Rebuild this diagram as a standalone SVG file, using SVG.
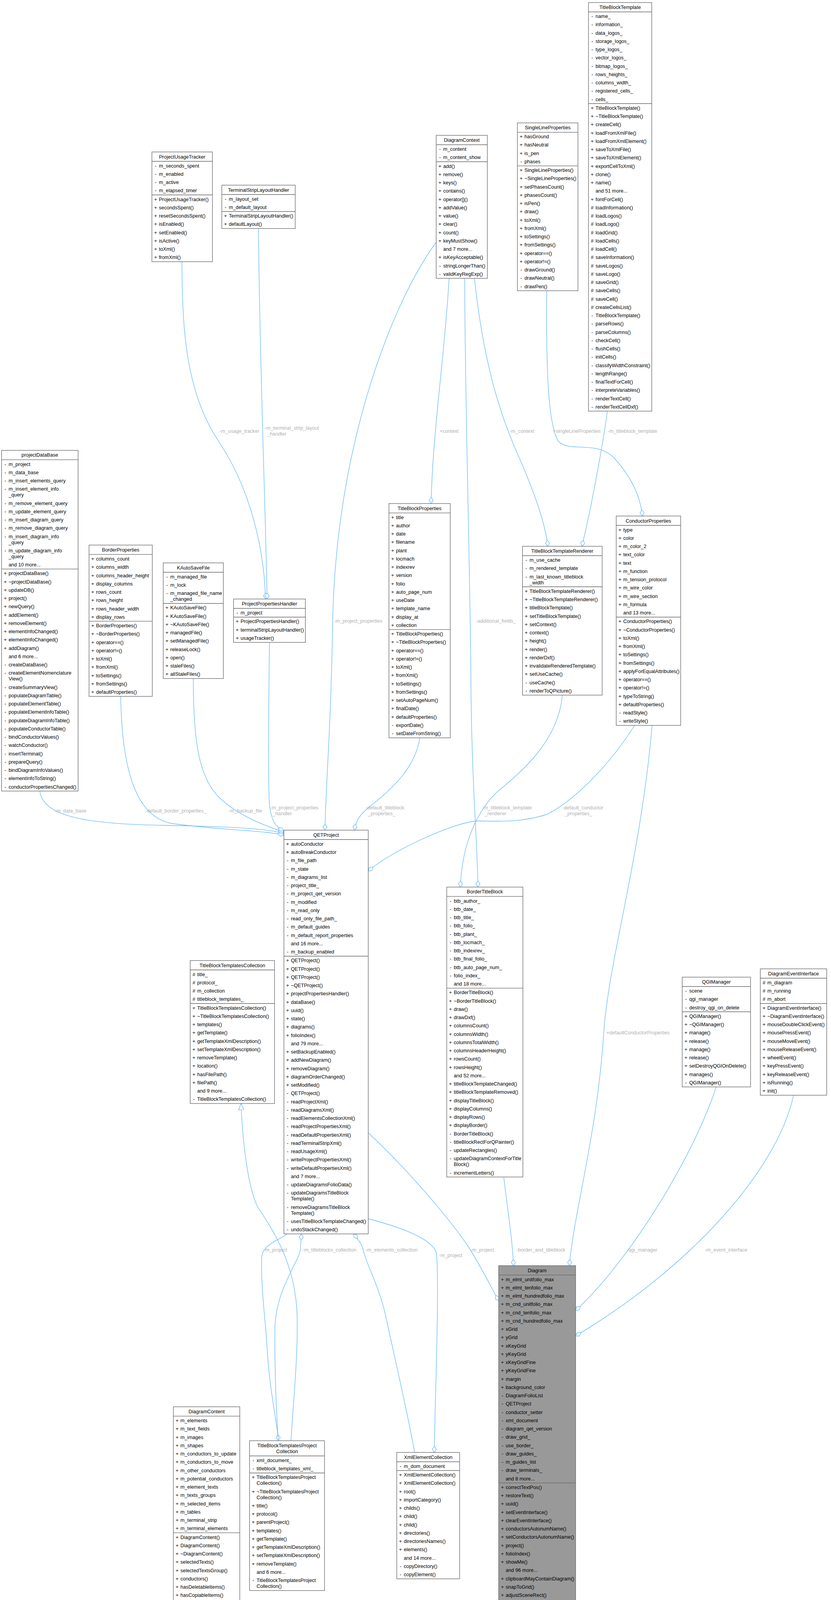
<svg xmlns="http://www.w3.org/2000/svg" width="2128" height="4923" viewBox="0 0 2128 4923">
<defs>
<style>
text{font-family:"Liberation Sans",Arial,sans-serif;font-size:12.7px;fill:#000}
.h,.p{text-anchor:middle}
.nd rect{fill:#fff;stroke:#666;stroke-width:1.33}
.nd path{stroke:#666;stroke-width:1.33;fill:none}
#n_Diagram rect{fill:#999}
.e path{stroke:#63B8FF;stroke-width:1.33;fill:none;marker-end:url(#dia)}
.e path.inh{marker-end:url(#tri)}
.l{fill:#b0b0b0}
</style>
<marker id="dia" viewBox="0 0 17 12" refX="16.5" refY="6" markerWidth="17" markerHeight="12" orient="auto" markerUnits="userSpaceOnUse"><path d="M0.5,6 L8.5,0.7 L16.5,6 L8.5,11.3 Z" fill="#fff" stroke="#63B8FF" stroke-width="1.33"/></marker>
<marker id="tri" viewBox="0 0 17 15" refX="16.5" refY="7.5" markerWidth="17" markerHeight="15" orient="auto" markerUnits="userSpaceOnUse"><path d="M0.5,0.7 L16.5,7.5 L0.5,14.3 Z" fill="#fff" stroke="#63B8FF" stroke-width="1.33"/></marker>
</defs>
<rect width="2128" height="4923" fill="#fff"/>

<g id="edges" class="e">
<path d="M466,670 C466,860 480,1010 560,1130 C640,1250 676,1400 680,1533.5"/>
<path d="M662,585 C664,900 680,1300 684,1533.5"/>
<path d="M1150,712.5 C1140,900 1108,1100 1104,1289.1"/>
<path d="M1215,712.5 C1240,950 1290,1080 1320,1150 C1360,1240 1395,1330 1403,1398.5"/>
<path d="M1400,744.4 C1398,960 1405,1090 1430,1130 C1460,1160 1530,1125 1575,1175 C1615,1220 1640,1270 1645,1321"/>
<path d="M1555,1052.5 C1550,1100 1515,1300 1490,1398.5"/>
<path d="M1117,620 C1000,780 860,1150 852,1589 C848,1850 835,2000 832,2125.3"/>
<path d="M1190,712.5 C1190,1000 1205,1500 1206,1760 C1208,2000 1222,2150 1224,2270.9"/>
<path d="M102,2025 C110,2085 200,2110 425,2113 C600,2116 690,2122 727,2134"/>
<path d="M309,1782.6 C312,1950 340,2090 440,2108 C560,2125 680,2126 727,2138"/>
<path d="M495,1737 C495,1900 510,1990 560,2040 C610,2090 690,2118 727,2130"/>
<path d="M690,1644.5 C688,1800 686,2000 690,2060 C695,2100 705,2118 727,2126"/>
<path d="M1075,1888.9 C1060,1990 960,2050 930,2080 C915,2095 910,2110 908,2125.3"/>
<path d="M1440,1779.5 C1430,1900 1330,1980 1270,2030 C1210,2090 1182,2180 1179,2270.9"/>
<path d="M1625,1857 C1560,1960 1470,2050 1400,2085 C1320,2110 1260,2100 1217,2102 C1150,2110 1000,2180 943,2230"/>
<path d="M1670,1857 C1640,2200 1560,2450 1546,2643 C1530,2900 1470,3100 1458,3240.1"/>
<path d="M943,2900 C1050,3000 1150,3120 1195,3185 C1225,3230 1255,3290 1277,3330"/>
<path d="M1290,3013.2 C1300,3100 1312,3170 1315,3240.1"/>
<path d="M735,3158.8 C715,3175 672,3185 670,3220 C668,3300 680,3380 684,3450 C690,3560 708,3630 713,3688.3"/>
<path d="M713,3688.3 C706,3600 703,3480 704,3400 C706,3300 766,3230 769,3199 C770,3185 771,3172 772,3158.8"/>
<path class="inh" d="M745,3688.3 C752,3580 765,3450 760,3350 C752,3230 700,3150 660,3090 C635,3040 622,2930 617,2825"/>
<path d="M943,3120 C1020,3140 1110,3170 1118,3210 C1125,3300 1115,3550 1112,3718.3"/>
<path d="M1062,3718.3 C1040,3600 1005,3450 990,3380 C975,3300 935,3230 930,3199 C927,3185 915,3170 905,3158.8"/>
<path d="M1834,2782.5 C1780,2950 1620,3220 1474,3355"/>
<path d="M2032,2803.8 C1990,3000 1760,3250 1474,3420"/>
<path d="M529,4158.7 C560,4400 800,4660 950,4717 C990,4730 1020,4735 1040,4740"/>
<path d="M1277,4410 C1250,4440 1215,4500 1183,4525 C1160,4535 1120,4530 1105,4555 C1095,4575 1090,4595 1089,4623.1"/>
<path d="M1173,4623.1 C1200,4550 1230,4480 1277,4380"/>
<path d="M1396,4613 C1385,4580 1375,4555 1373,4519.9"/>
<path d="M1450,4519.9 C1460,4550 1470,4570 1472,4591.3"/>
<text class="l" x="562" y="1107.5">-m_usage_tracker</text>
<text class="l" x="678" y="1100">-m_terminal_strip_layout</text>
<text class="l" x="684" y="1115">_handler</text>
<text class="l" x="1126" y="1107.5">+context</text>
<text class="l" x="1305" y="1107.5">-m_context</text>
<text class="l" x="1416" y="1107.5">+singleLineProperties</text>
<text class="l" x="1556" y="1107.5">-m_titleblock_template</text>
<text class="l" x="979" y="1593.5" text-anchor="end">-m_project_properties</text>
<text class="l" x="1219" y="1593.5">-additional_fields_</text>
<text class="l" x="140" y="2079.5">-m_data_base</text>
<text class="l" x="372" y="2079.5">-default_border_properties_</text>
<text class="l" x="585" y="2079.5">-m_backup_file</text>
<text class="l" x="692" y="2072">-m_project_properties</text>
<text class="l" x="698" y="2087">_handler</text>
<text class="l" x="936" y="2072">-default_titleblock</text>
<text class="l" x="942" y="2087">_properties_</text>
<text class="l" x="1235" y="2072">-m_titleblock_template</text>
<text class="l" x="1241" y="2087">_renderer</text>
<text class="l" x="1440" y="2072">-default_conductor</text>
<text class="l" x="1446" y="2087">_properties_</text>
<text class="l" x="1553" y="2647.5">+defaultConductorProperties</text>
<text class="l" x="675" y="3203.5">-m_project</text>
<text class="l" x="775" y="3203.5">-m_titleblocks_collection</text>
<text class="l" x="936" y="3203.5">-m_elements_collection</text>
<text class="l" x="1124" y="3218">-m_project</text>
<text class="l" x="1205" y="3203.5">-m_project</text>
<text class="l" x="1322" y="3203.5">-border_and_titleblock</text>
<text class="l" x="1605" y="3203.5">-qgi_manager</text>
<text class="l" x="1805" y="3203.5">-m_event_interface</text>
<text class="l" x="720" y="4561.5">-m_moved_content</text>
<text class="l" x="1117" y="4561.5">-m_diagram</text>
<text class="l" x="1204" y="4561.5">-m_elements_mover</text>
<text class="l" x="1385" y="4561.5">-m_element_texts_mover</text>
<text class="l" x="1545" y="4561.5">-m_diagram</text>
</g>

<g id="n_TitleBlockTemplate" class="nd">
<rect x="1507" y="6.5" width="162" height="1046"/>
<path d="M1507,30.5h162M1507,265.25h162"/>
<text class="h" x="1588" y="23">TitleBlockTemplate</text>
<text class="p" x="1516.5" y="46.1">-<tspan x="1516.5" dy="21.25">-</tspan><tspan x="1516.5" dy="21.25">-</tspan><tspan x="1516.5" dy="21.25">-</tspan><tspan x="1516.5" dy="21.25">-</tspan><tspan x="1516.5" dy="21.25">-</tspan><tspan x="1516.5" dy="21.25">-</tspan><tspan x="1516.5" dy="21.25">-</tspan><tspan x="1516.5" dy="21.25">-</tspan><tspan x="1516.5" dy="21.25">-</tspan><tspan x="1516.5" dy="21.25">-</tspan></text>
<text x="1525" y="46.1">name_<tspan x="1525" dy="21.25">information_</tspan><tspan x="1525" dy="21.25">data_logos_</tspan><tspan x="1525" dy="21.25">storage_logos_</tspan><tspan x="1525" dy="21.25">type_logos_</tspan><tspan x="1525" dy="21.25">vector_logos_</tspan><tspan x="1525" dy="21.25">bitmap_logos_</tspan><tspan x="1525" dy="21.25">rows_heights_</tspan><tspan x="1525" dy="21.25">columns_width_</tspan><tspan x="1525" dy="21.25">registered_cells_</tspan><tspan x="1525" dy="21.25">cells_</tspan></text>
<text class="p" x="1516.5" y="280.85">+<tspan x="1516.5" dy="21.25">+</tspan><tspan x="1516.5" dy="21.25">+</tspan><tspan x="1516.5" dy="21.25">+</tspan><tspan x="1516.5" dy="21.25">+</tspan><tspan x="1516.5" dy="21.25">+</tspan><tspan x="1516.5" dy="21.25">+</tspan><tspan x="1516.5" dy="21.25">+</tspan><tspan x="1516.5" dy="21.25">+</tspan><tspan x="1516.5" dy="21.25">+</tspan><tspan x="1516.5" dy="42.5">+</tspan><tspan x="1516.5" dy="21.25">#</tspan><tspan x="1516.5" dy="21.25">#</tspan><tspan x="1516.5" dy="21.25">#</tspan><tspan x="1516.5" dy="21.25">#</tspan><tspan x="1516.5" dy="21.25">#</tspan><tspan x="1516.5" dy="21.25">#</tspan><tspan x="1516.5" dy="21.25">#</tspan><tspan x="1516.5" dy="21.25">#</tspan><tspan x="1516.5" dy="21.25">#</tspan><tspan x="1516.5" dy="21.25">#</tspan><tspan x="1516.5" dy="21.25">#</tspan><tspan x="1516.5" dy="21.25">#</tspan><tspan x="1516.5" dy="21.25">#</tspan><tspan x="1516.5" dy="21.25">-</tspan><tspan x="1516.5" dy="21.25">-</tspan><tspan x="1516.5" dy="21.25">-</tspan><tspan x="1516.5" dy="21.25">-</tspan><tspan x="1516.5" dy="21.25">-</tspan><tspan x="1516.5" dy="21.25">-</tspan><tspan x="1516.5" dy="21.25">-</tspan><tspan x="1516.5" dy="21.25">-</tspan><tspan x="1516.5" dy="21.25">-</tspan><tspan x="1516.5" dy="21.25">-</tspan><tspan x="1516.5" dy="21.25">-</tspan><tspan x="1516.5" dy="21.25">-</tspan></text>
<text x="1525" y="280.85">TitleBlockTemplate()<tspan x="1525" dy="21.25">~TitleBlockTemplate()</tspan><tspan x="1525" dy="21.25">createCell()</tspan><tspan x="1525" dy="21.25">loadFromXmlFile()</tspan><tspan x="1525" dy="21.25">loadFromXmlElement()</tspan><tspan x="1525" dy="21.25">saveToXmlFile()</tspan><tspan x="1525" dy="21.25">saveToXmlElement()</tspan><tspan x="1525" dy="21.25">exportCellToXml()</tspan><tspan x="1525" dy="21.25">clone()</tspan><tspan x="1525" dy="21.25">name()</tspan><tspan x="1525" dy="21.25">and 51 more...</tspan><tspan x="1525" dy="21.25">fontForCell()</tspan><tspan x="1525" dy="21.25">loadInformation()</tspan><tspan x="1525" dy="21.25">loadLogos()</tspan><tspan x="1525" dy="21.25">loadLogo()</tspan><tspan x="1525" dy="21.25">loadGrid()</tspan><tspan x="1525" dy="21.25">loadCells()</tspan><tspan x="1525" dy="21.25">loadCell()</tspan><tspan x="1525" dy="21.25">saveInformation()</tspan><tspan x="1525" dy="21.25">saveLogos()</tspan><tspan x="1525" dy="21.25">saveLogo()</tspan><tspan x="1525" dy="21.25">saveGrid()</tspan><tspan x="1525" dy="21.25">saveCells()</tspan><tspan x="1525" dy="21.25">saveCell()</tspan><tspan x="1525" dy="21.25">createCellsList()</tspan><tspan x="1525" dy="21.25">TitleBlockTemplate()</tspan><tspan x="1525" dy="21.25">parseRows()</tspan><tspan x="1525" dy="21.25">parseColumns()</tspan><tspan x="1525" dy="21.25">checkCell()</tspan><tspan x="1525" dy="21.25">flushCells()</tspan><tspan x="1525" dy="21.25">initCells()</tspan><tspan x="1525" dy="21.25">classifyWidthConstraint()</tspan><tspan x="1525" dy="21.25">lengthRange()</tspan><tspan x="1525" dy="21.25">finalTextForCell()</tspan><tspan x="1525" dy="21.25">interpreteVariables()</tspan><tspan x="1525" dy="21.25">renderTextCell()</tspan><tspan x="1525" dy="21.25">renderTextCellDxf()</tspan></text>
</g>

<g id="n_SingleLineProperties" class="nd">
<rect x="1325" y="314.6" width="155" height="429.75"/>
<path d="M1325,338.6h155M1325,424.6h155"/>
<text class="h" x="1402.5" y="331.1">SingleLineProperties</text>
<text class="p" x="1334.5" y="354.2">+<tspan x="1334.5" dy="21.25">+</tspan><tspan x="1334.5" dy="21.25">+</tspan><tspan x="1334.5" dy="21.25">-</tspan></text>
<text x="1343" y="354.2">hasGround<tspan x="1343" dy="21.25">hasNeutral</tspan><tspan x="1343" dy="21.25">is_pen</tspan><tspan x="1343" dy="21.25">phases</tspan></text>
<text class="p" x="1334.5" y="440.2">+<tspan x="1334.5" dy="21.25">+</tspan><tspan x="1334.5" dy="21.25">+</tspan><tspan x="1334.5" dy="21.25">+</tspan><tspan x="1334.5" dy="21.25">+</tspan><tspan x="1334.5" dy="21.25">+</tspan><tspan x="1334.5" dy="21.25">+</tspan><tspan x="1334.5" dy="21.25">+</tspan><tspan x="1334.5" dy="21.25">+</tspan><tspan x="1334.5" dy="21.25">+</tspan><tspan x="1334.5" dy="21.25">+</tspan><tspan x="1334.5" dy="21.25">+</tspan><tspan x="1334.5" dy="21.25">-</tspan><tspan x="1334.5" dy="21.25">-</tspan><tspan x="1334.5" dy="21.25">-</tspan></text>
<text x="1343" y="440.2">SingleLineProperties()<tspan x="1343" dy="21.25">~SingleLineProperties()</tspan><tspan x="1343" dy="21.25">setPhasesCount()</tspan><tspan x="1343" dy="21.25">phasesCount()</tspan><tspan x="1343" dy="21.25">isPen()</tspan><tspan x="1343" dy="21.25">draw()</tspan><tspan x="1343" dy="21.25">toXml()</tspan><tspan x="1343" dy="21.25">fromXml()</tspan><tspan x="1343" dy="21.25">toSettings()</tspan><tspan x="1343" dy="21.25">fromSettings()</tspan><tspan x="1343" dy="21.25">operator==()</tspan><tspan x="1343" dy="21.25">operator!=()</tspan><tspan x="1343" dy="21.25">drawGround()</tspan><tspan x="1343" dy="21.25">drawNeutral()</tspan><tspan x="1343" dy="21.25">drawPen()</tspan></text>
</g>

<g id="n_DiagramContext" class="nd">
<rect x="1117" y="346.5" width="131" height="366"/>
<path d="M1117,370.5h131M1117,414h131"/>
<text class="h" x="1182.5" y="363">DiagramContext</text>
<text class="p" x="1126.5" y="386.1">-<tspan x="1126.5" dy="21.25">-</tspan></text>
<text x="1135" y="386.1">m_content<tspan x="1135" dy="21.25">m_content_show</tspan></text>
<text class="p" x="1126.5" y="429.6">+<tspan x="1126.5" dy="21.25">+</tspan><tspan x="1126.5" dy="21.25">+</tspan><tspan x="1126.5" dy="21.25">+</tspan><tspan x="1126.5" dy="21.25">+</tspan><tspan x="1126.5" dy="21.25">+</tspan><tspan x="1126.5" dy="21.25">+</tspan><tspan x="1126.5" dy="21.25">+</tspan><tspan x="1126.5" dy="21.25">+</tspan><tspan x="1126.5" dy="21.25">+</tspan><tspan x="1126.5" dy="42.5">+</tspan><tspan x="1126.5" dy="21.25">-</tspan><tspan x="1126.5" dy="21.25">-</tspan></text>
<text x="1135" y="429.6">add()<tspan x="1135" dy="21.25">remove()</tspan><tspan x="1135" dy="21.25">keys()</tspan><tspan x="1135" dy="21.25">contains()</tspan><tspan x="1135" dy="21.25">operator[]()</tspan><tspan x="1135" dy="21.25">addValue()</tspan><tspan x="1135" dy="21.25">value()</tspan><tspan x="1135" dy="21.25">clear()</tspan><tspan x="1135" dy="21.25">count()</tspan><tspan x="1135" dy="21.25">keyMustShow()</tspan><tspan x="1135" dy="21.25">and 7 more...</tspan><tspan x="1135" dy="21.25">isKeyAcceptable()</tspan><tspan x="1135" dy="21.25">stringLongerThan()</tspan><tspan x="1135" dy="21.25">validKeyRegExp()</tspan></text>
</g>

<g id="n_ProjectUsageTracker" class="nd">
<rect x="389" y="389" width="155" height="281"/>
<path d="M389,413h155M389,499h155"/>
<text class="h" x="466.5" y="405.5">ProjectUsageTracker</text>
<text class="p" x="398.5" y="428.6">-<tspan x="398.5" dy="21.25">-</tspan><tspan x="398.5" dy="21.25">-</tspan><tspan x="398.5" dy="21.25">-</tspan></text>
<text x="407" y="428.6">m_seconds_spent<tspan x="407" dy="21.25">m_enabled</tspan><tspan x="407" dy="21.25">m_active</tspan><tspan x="407" dy="21.25">m_elapsed_timer</tspan></text>
<text class="p" x="398.5" y="514.6">+<tspan x="398.5" dy="21.25">+</tspan><tspan x="398.5" dy="21.25">+</tspan><tspan x="398.5" dy="21.25">+</tspan><tspan x="398.5" dy="21.25">+</tspan><tspan x="398.5" dy="21.25">+</tspan><tspan x="398.5" dy="21.25">+</tspan><tspan x="398.5" dy="21.25">+</tspan></text>
<text x="407" y="514.6">ProjectUsageTracker()<tspan x="407" dy="21.25">secondsSpent()</tspan><tspan x="407" dy="21.25">resetSecondsSpent()</tspan><tspan x="407" dy="21.25">isEnabled()</tspan><tspan x="407" dy="21.25">setEnabled()</tspan><tspan x="407" dy="21.25">isActive()</tspan><tspan x="407" dy="21.25">toXml()</tspan><tspan x="407" dy="21.25">fromXml()</tspan></text>
</g>

<g id="n_TerminalStripLayoutHandler" class="nd">
<rect x="568" y="474" width="188" height="111"/>
<path d="M568,498h188M568,541.5h188"/>
<text class="h" x="662" y="490.5">TerminalStripLayoutHandler</text>
<text class="p" x="577.5" y="513.6">-<tspan x="577.5" dy="21.25">-</tspan></text>
<text x="586" y="513.6">m_layout_set<tspan x="586" dy="21.25">m_default_layout</tspan></text>
<text class="p" x="577.5" y="557.1">+<tspan x="577.5" dy="21.25">+</tspan></text>
<text x="586" y="557.1">TerminalStripLayoutHandler()<tspan x="586" dy="21.25">defaultLayout()</tspan></text>
</g>

<g id="n_projectDataBase" class="nd">
<rect x="4" y="1152.9" width="196" height="872.25"/>
<path d="M4,1176.9h196M4,1456.65h196"/>
<text class="h" x="102" y="1169.4">projectDataBase</text>
<text class="p" x="13.5" y="1192.5">-<tspan x="13.5" dy="21.25">-</tspan><tspan x="13.5" dy="21.25">-</tspan><tspan x="13.5" dy="21.25">-</tspan><tspan x="13.5" dy="36.25">-</tspan><tspan x="13.5" dy="21.25">-</tspan><tspan x="13.5" dy="21.25">-</tspan><tspan x="13.5" dy="21.25">-</tspan><tspan x="13.5" dy="21.25">-</tspan><tspan x="13.5" dy="36.25">-</tspan></text>
<text x="22" y="1192.5">m_project<tspan x="22" dy="21.25">m_data_base</tspan><tspan x="22" dy="21.25">m_insert_elements_query</tspan><tspan x="22" dy="21.25">m_insert_element_info</tspan><tspan x="22" dy="15">_query</tspan><tspan x="22" dy="21.25">m_remove_element_query</tspan><tspan x="22" dy="21.25">m_update_element_query</tspan><tspan x="22" dy="21.25">m_insert_diagram_query</tspan><tspan x="22" dy="21.25">m_remove_diagram_query</tspan><tspan x="22" dy="21.25">m_insert_diagram_info</tspan><tspan x="22" dy="15">_query</tspan><tspan x="22" dy="21.25">m_update_diagram_info</tspan><tspan x="22" dy="15">_query</tspan><tspan x="22" dy="21.25">and 10 more...</tspan></text>
<text class="p" x="13.5" y="1472.25">+<tspan x="13.5" dy="21.25">+</tspan><tspan x="13.5" dy="21.25">+</tspan><tspan x="13.5" dy="21.25">+</tspan><tspan x="13.5" dy="21.25">+</tspan><tspan x="13.5" dy="21.25">+</tspan><tspan x="13.5" dy="21.25">+</tspan><tspan x="13.5" dy="21.25">+</tspan><tspan x="13.5" dy="21.25">+</tspan><tspan x="13.5" dy="21.25">+</tspan><tspan x="13.5" dy="42.5">-</tspan><tspan x="13.5" dy="21.25">-</tspan><tspan x="13.5" dy="36.25">-</tspan><tspan x="13.5" dy="21.25">-</tspan><tspan x="13.5" dy="21.25">-</tspan><tspan x="13.5" dy="21.25">-</tspan><tspan x="13.5" dy="21.25">-</tspan><tspan x="13.5" dy="21.25">-</tspan><tspan x="13.5" dy="21.25">-</tspan><tspan x="13.5" dy="21.25">-</tspan><tspan x="13.5" dy="21.25">-</tspan><tspan x="13.5" dy="21.25">-</tspan><tspan x="13.5" dy="21.25">-</tspan><tspan x="13.5" dy="21.25">-</tspan><tspan x="13.5" dy="21.25">-</tspan></text>
<text x="22" y="1472.25">projectDataBase()<tspan x="22" dy="21.25">~projectDataBase()</tspan><tspan x="22" dy="21.25">updateDB()</tspan><tspan x="22" dy="21.25">project()</tspan><tspan x="22" dy="21.25">newQuery()</tspan><tspan x="22" dy="21.25">addElement()</tspan><tspan x="22" dy="21.25">removeElement()</tspan><tspan x="22" dy="21.25">elementInfoChanged()</tspan><tspan x="22" dy="21.25">elementInfoChanged()</tspan><tspan x="22" dy="21.25">addDiagram()</tspan><tspan x="22" dy="21.25">and 6 more...</tspan><tspan x="22" dy="21.25">createDataBase()</tspan><tspan x="22" dy="21.25">createElementNomenclature</tspan><tspan x="22" dy="15">View()</tspan><tspan x="22" dy="21.25">createSummaryView()</tspan><tspan x="22" dy="21.25">populateDiagramTable()</tspan><tspan x="22" dy="21.25">populateElementTable()</tspan><tspan x="22" dy="21.25">populateElementInfoTable()</tspan><tspan x="22" dy="21.25">populateDiagramInfoTable()</tspan><tspan x="22" dy="21.25">populateConductorTable()</tspan><tspan x="22" dy="21.25">bindConductorValues()</tspan><tspan x="22" dy="21.25">watchConductor()</tspan><tspan x="22" dy="21.25">insertTerminal()</tspan><tspan x="22" dy="21.25">prepareQuery()</tspan><tspan x="22" dy="21.25">bindDiagramInfoValues()</tspan><tspan x="22" dy="21.25">elementInfoToString()</tspan><tspan x="22" dy="21.25">conductorPropertiesChanged()</tspan></text>
</g>

<g id="n_BorderProperties" class="nd">
<rect x="228" y="1395.4" width="162" height="387.25"/>
<path d="M228,1419.4h162M228,1590.4h162"/>
<text class="h" x="309" y="1411.9">BorderProperties</text>
<text class="p" x="237.5" y="1435">+<tspan x="237.5" dy="21.25">+</tspan><tspan x="237.5" dy="21.25">+</tspan><tspan x="237.5" dy="21.25">+</tspan><tspan x="237.5" dy="21.25">+</tspan><tspan x="237.5" dy="21.25">+</tspan><tspan x="237.5" dy="21.25">+</tspan><tspan x="237.5" dy="21.25">+</tspan></text>
<text x="246" y="1435">columns_count<tspan x="246" dy="21.25">columns_width</tspan><tspan x="246" dy="21.25">columns_header_height</tspan><tspan x="246" dy="21.25">display_columns</tspan><tspan x="246" dy="21.25">rows_count</tspan><tspan x="246" dy="21.25">rows_height</tspan><tspan x="246" dy="21.25">rows_header_width</tspan><tspan x="246" dy="21.25">display_rows</tspan></text>
<text class="p" x="237.5" y="1606">+<tspan x="237.5" dy="21.25">+</tspan><tspan x="237.5" dy="21.25">+</tspan><tspan x="237.5" dy="21.25">+</tspan><tspan x="237.5" dy="21.25">+</tspan><tspan x="237.5" dy="21.25">+</tspan><tspan x="237.5" dy="21.25">+</tspan><tspan x="237.5" dy="21.25">+</tspan><tspan x="237.5" dy="21.25">+</tspan></text>
<text x="246" y="1606">BorderProperties()<tspan x="246" dy="21.25">~BorderProperties()</tspan><tspan x="246" dy="21.25">operator==()</tspan><tspan x="246" dy="21.25">operator!=()</tspan><tspan x="246" dy="21.25">toXml()</tspan><tspan x="246" dy="21.25">fromXml()</tspan><tspan x="246" dy="21.25">toSettings()</tspan><tspan x="246" dy="21.25">fromSettings()</tspan><tspan x="246" dy="21.25">defaultProperties()</tspan></text>
</g>

<g id="n_KAutoSaveFile" class="nd">
<rect x="418" y="1441" width="154" height="296"/>
<path d="M418,1465h154M418,1544.75h154"/>
<text class="h" x="495" y="1457.5">KAutoSaveFile</text>
<text class="p" x="427.5" y="1480.6">-<tspan x="427.5" dy="21.25">-</tspan><tspan x="427.5" dy="21.25">-</tspan></text>
<text x="436" y="1480.6">m_managed_file<tspan x="436" dy="21.25">m_lock</tspan><tspan x="436" dy="21.25">m_managed_file_name</tspan><tspan x="436" dy="15">_changed</tspan></text>
<text class="p" x="427.5" y="1560.35">+<tspan x="427.5" dy="21.25">+</tspan><tspan x="427.5" dy="21.25">+</tspan><tspan x="427.5" dy="21.25">+</tspan><tspan x="427.5" dy="21.25">+</tspan><tspan x="427.5" dy="21.25">+</tspan><tspan x="427.5" dy="21.25">+</tspan><tspan x="427.5" dy="21.25">+</tspan><tspan x="427.5" dy="21.25">+</tspan></text>
<text x="436" y="1560.35">KAutoSaveFile()<tspan x="436" dy="21.25">KAutoSaveFile()</tspan><tspan x="436" dy="21.25">~KAutoSaveFile()</tspan><tspan x="436" dy="21.25">managedFile()</tspan><tspan x="436" dy="21.25">setManagedFile()</tspan><tspan x="436" dy="21.25">releaseLock()</tspan><tspan x="436" dy="21.25">open()</tspan><tspan x="436" dy="21.25">staleFiles()</tspan><tspan x="436" dy="21.25">allStaleFiles()</tspan></text>
</g>

<g id="n_ProjectPropertiesHandler" class="nd">
<rect x="598" y="1533.5" width="184" height="111"/>
<path d="M598,1557.5h184M598,1579.75h184"/>
<text class="h" x="690" y="1550">ProjectPropertiesHandler</text>
<text class="p" x="607.5" y="1573.1">-</text>
<text x="616" y="1573.1">m_project</text>
<text class="p" x="607.5" y="1595.35">+<tspan x="607.5" dy="21.25">+</tspan><tspan x="607.5" dy="21.25">+</tspan></text>
<text x="616" y="1595.35">ProjectPropertiesHandler()<tspan x="616" dy="21.25">terminalStripLayoutHandler()</tspan><tspan x="616" dy="21.25">usageTracker()</tspan></text>
</g>

<g id="n_TitleBlockProperties" class="nd">
<rect x="996" y="1289.1" width="157" height="599.75"/>
<path d="M996,1313.1h157M996,1611.6h157"/>
<text class="h" x="1074.5" y="1305.6">TitleBlockProperties</text>
<text class="p" x="1005.5" y="1328.7">+<tspan x="1005.5" dy="21.25">+</tspan><tspan x="1005.5" dy="21.25">+</tspan><tspan x="1005.5" dy="21.25">+</tspan><tspan x="1005.5" dy="21.25">+</tspan><tspan x="1005.5" dy="21.25">+</tspan><tspan x="1005.5" dy="21.25">+</tspan><tspan x="1005.5" dy="21.25">+</tspan><tspan x="1005.5" dy="21.25">+</tspan><tspan x="1005.5" dy="21.25">+</tspan><tspan x="1005.5" dy="21.25">+</tspan><tspan x="1005.5" dy="21.25">+</tspan><tspan x="1005.5" dy="21.25">+</tspan><tspan x="1005.5" dy="21.25">+</tspan></text>
<text x="1014" y="1328.7">title<tspan x="1014" dy="21.25">author</tspan><tspan x="1014" dy="21.25">date</tspan><tspan x="1014" dy="21.25">filename</tspan><tspan x="1014" dy="21.25">plant</tspan><tspan x="1014" dy="21.25">locmach</tspan><tspan x="1014" dy="21.25">indexrev</tspan><tspan x="1014" dy="21.25">version</tspan><tspan x="1014" dy="21.25">folio</tspan><tspan x="1014" dy="21.25">auto_page_num</tspan><tspan x="1014" dy="21.25">useDate</tspan><tspan x="1014" dy="21.25">template_name</tspan><tspan x="1014" dy="21.25">display_at</tspan><tspan x="1014" dy="21.25">collection</tspan></text>
<text class="p" x="1005.5" y="1627.2">+<tspan x="1005.5" dy="21.25">+</tspan><tspan x="1005.5" dy="21.25">+</tspan><tspan x="1005.5" dy="21.25">+</tspan><tspan x="1005.5" dy="21.25">+</tspan><tspan x="1005.5" dy="21.25">+</tspan><tspan x="1005.5" dy="21.25">+</tspan><tspan x="1005.5" dy="21.25">+</tspan><tspan x="1005.5" dy="21.25">+</tspan><tspan x="1005.5" dy="21.25">+</tspan><tspan x="1005.5" dy="21.25">+</tspan><tspan x="1005.5" dy="21.25">-</tspan><tspan x="1005.5" dy="21.25">-</tspan></text>
<text x="1014" y="1627.2">TitleBlockProperties()<tspan x="1014" dy="21.25">~TitleBlockProperties()</tspan><tspan x="1014" dy="21.25">operator==()</tspan><tspan x="1014" dy="21.25">operator!=()</tspan><tspan x="1014" dy="21.25">toXml()</tspan><tspan x="1014" dy="21.25">fromXml()</tspan><tspan x="1014" dy="21.25">toSettings()</tspan><tspan x="1014" dy="21.25">fromSettings()</tspan><tspan x="1014" dy="21.25">setAutoPageNum()</tspan><tspan x="1014" dy="21.25">finalDate()</tspan><tspan x="1014" dy="21.25">defaultProperties()</tspan><tspan x="1014" dy="21.25">exportDate()</tspan><tspan x="1014" dy="21.25">setDateFromString()</tspan></text>
</g>

<g id="n_TitleBlockTemplateRenderer" class="nd">
<rect x="1338" y="1398.5" width="204" height="381"/>
<path d="M1338,1422.5h204M1338,1502.25h204"/>
<text class="h" x="1440" y="1415">TitleBlockTemplateRenderer</text>
<text class="p" x="1347.5" y="1438.1">-<tspan x="1347.5" dy="21.25">-</tspan><tspan x="1347.5" dy="21.25">-</tspan></text>
<text x="1356" y="1438.1">m_use_cache<tspan x="1356" dy="21.25">m_rendered_template</tspan><tspan x="1356" dy="21.25">m_last_known_titleblock</tspan><tspan x="1356" dy="15">_width</tspan></text>
<text class="p" x="1347.5" y="1517.85">+<tspan x="1347.5" dy="21.25">+</tspan><tspan x="1347.5" dy="21.25">+</tspan><tspan x="1347.5" dy="21.25">+</tspan><tspan x="1347.5" dy="21.25">+</tspan><tspan x="1347.5" dy="21.25">+</tspan><tspan x="1347.5" dy="21.25">+</tspan><tspan x="1347.5" dy="21.25">+</tspan><tspan x="1347.5" dy="21.25">+</tspan><tspan x="1347.5" dy="21.25">+</tspan><tspan x="1347.5" dy="21.25">+</tspan><tspan x="1347.5" dy="21.25">-</tspan><tspan x="1347.5" dy="21.25">-</tspan></text>
<text x="1356" y="1517.85">TitleBlockTemplateRenderer()<tspan x="1356" dy="21.25">~TitleBlockTemplateRenderer()</tspan><tspan x="1356" dy="21.25">titleBlockTemplate()</tspan><tspan x="1356" dy="21.25">setTitleBlockTemplate()</tspan><tspan x="1356" dy="21.25">setContext()</tspan><tspan x="1356" dy="21.25">context()</tspan><tspan x="1356" dy="21.25">height()</tspan><tspan x="1356" dy="21.25">render()</tspan><tspan x="1356" dy="21.25">renderDxf()</tspan><tspan x="1356" dy="21.25">invalidateRenderedTemplate()</tspan><tspan x="1356" dy="21.25">setUseCache()</tspan><tspan x="1356" dy="21.25">useCache()</tspan><tspan x="1356" dy="21.25">renderToQPicture()</tspan></text>
</g>

<g id="n_ConductorProperties" class="nd">
<rect x="1578" y="1321" width="165" height="536"/>
<path d="M1578,1345h165M1578,1579.75h165"/>
<text class="h" x="1660.5" y="1337.5">ConductorProperties</text>
<text class="p" x="1587.5" y="1360.6">+<tspan x="1587.5" dy="21.25">+</tspan><tspan x="1587.5" dy="21.25">+</tspan><tspan x="1587.5" dy="21.25">+</tspan><tspan x="1587.5" dy="21.25">+</tspan><tspan x="1587.5" dy="21.25">+</tspan><tspan x="1587.5" dy="21.25">+</tspan><tspan x="1587.5" dy="21.25">+</tspan><tspan x="1587.5" dy="21.25">+</tspan><tspan x="1587.5" dy="21.25">+</tspan></text>
<text x="1596" y="1360.6">type<tspan x="1596" dy="21.25">color</tspan><tspan x="1596" dy="21.25">m_color_2</tspan><tspan x="1596" dy="21.25">text_color</tspan><tspan x="1596" dy="21.25">text</tspan><tspan x="1596" dy="21.25">m_function</tspan><tspan x="1596" dy="21.25">m_tension_protocol</tspan><tspan x="1596" dy="21.25">m_wire_color</tspan><tspan x="1596" dy="21.25">m_wire_section</tspan><tspan x="1596" dy="21.25">m_formula</tspan><tspan x="1596" dy="21.25">and 13 more...</tspan></text>
<text class="p" x="1587.5" y="1595.35">+<tspan x="1587.5" dy="21.25">+</tspan><tspan x="1587.5" dy="21.25">+</tspan><tspan x="1587.5" dy="21.25">+</tspan><tspan x="1587.5" dy="21.25">+</tspan><tspan x="1587.5" dy="21.25">+</tspan><tspan x="1587.5" dy="21.25">+</tspan><tspan x="1587.5" dy="21.25">+</tspan><tspan x="1587.5" dy="21.25">+</tspan><tspan x="1587.5" dy="21.25">+</tspan><tspan x="1587.5" dy="21.25">+</tspan><tspan x="1587.5" dy="21.25">-</tspan><tspan x="1587.5" dy="21.25">-</tspan></text>
<text x="1596" y="1595.35">ConductorProperties()<tspan x="1596" dy="21.25">~ConductorProperties()</tspan><tspan x="1596" dy="21.25">toXml()</tspan><tspan x="1596" dy="21.25">fromXml()</tspan><tspan x="1596" dy="21.25">toSettings()</tspan><tspan x="1596" dy="21.25">fromSettings()</tspan><tspan x="1596" dy="21.25">applyForEqualAttributes()</tspan><tspan x="1596" dy="21.25">operator==()</tspan><tspan x="1596" dy="21.25">operator!=()</tspan><tspan x="1596" dy="21.25">typeToString()</tspan><tspan x="1596" dy="21.25">defaultProperties()</tspan><tspan x="1596" dy="21.25">readStyle()</tspan><tspan x="1596" dy="21.25">writeStyle()</tspan></text>
</g>

<g id="n_QETProject" class="nd">
<rect x="727" y="2125.25" width="216" height="1033.5"/>
<path d="M727,2149.25h216M727,2447.75h216"/>
<text class="h" x="835" y="2141.75">QETProject</text>
<text class="p" x="736.5" y="2164.85">+<tspan x="736.5" dy="21.25">+</tspan><tspan x="736.5" dy="21.25">-</tspan><tspan x="736.5" dy="21.25">-</tspan><tspan x="736.5" dy="21.25">-</tspan><tspan x="736.5" dy="21.25">-</tspan><tspan x="736.5" dy="21.25">-</tspan><tspan x="736.5" dy="21.25">-</tspan><tspan x="736.5" dy="21.25">-</tspan><tspan x="736.5" dy="21.25">-</tspan><tspan x="736.5" dy="21.25">-</tspan><tspan x="736.5" dy="21.25">-</tspan><tspan x="736.5" dy="42.5">-</tspan></text>
<text x="745" y="2164.85">autoConductor<tspan x="745" dy="21.25">autoBreakConductor</tspan><tspan x="745" dy="21.25">m_file_path</tspan><tspan x="745" dy="21.25">m_state</tspan><tspan x="745" dy="21.25">m_diagrams_list</tspan><tspan x="745" dy="21.25">project_title_</tspan><tspan x="745" dy="21.25">m_project_qet_version</tspan><tspan x="745" dy="21.25">m_modified</tspan><tspan x="745" dy="21.25">m_read_only</tspan><tspan x="745" dy="21.25">read_only_file_path_</tspan><tspan x="745" dy="21.25">m_default_guides</tspan><tspan x="745" dy="21.25">m_default_report_properties</tspan><tspan x="745" dy="21.25">and 16 more...</tspan><tspan x="745" dy="21.25">m_backup_enabled</tspan></text>
<text class="p" x="736.5" y="2463.35">+<tspan x="736.5" dy="21.25">+</tspan><tspan x="736.5" dy="21.25">+</tspan><tspan x="736.5" dy="21.25">+</tspan><tspan x="736.5" dy="21.25">+</tspan><tspan x="736.5" dy="21.25">+</tspan><tspan x="736.5" dy="21.25">+</tspan><tspan x="736.5" dy="21.25">+</tspan><tspan x="736.5" dy="21.25">+</tspan><tspan x="736.5" dy="21.25">+</tspan><tspan x="736.5" dy="42.5">+</tspan><tspan x="736.5" dy="21.25">+</tspan><tspan x="736.5" dy="21.25">+</tspan><tspan x="736.5" dy="21.25">+</tspan><tspan x="736.5" dy="21.25">+</tspan><tspan x="736.5" dy="21.25">-</tspan><tspan x="736.5" dy="21.25">-</tspan><tspan x="736.5" dy="21.25">-</tspan><tspan x="736.5" dy="21.25">-</tspan><tspan x="736.5" dy="21.25">-</tspan><tspan x="736.5" dy="21.25">-</tspan><tspan x="736.5" dy="21.25">-</tspan><tspan x="736.5" dy="21.25">-</tspan><tspan x="736.5" dy="21.25">-</tspan><tspan x="736.5" dy="21.25">-</tspan><tspan x="736.5" dy="42.5">-</tspan><tspan x="736.5" dy="21.25">-</tspan><tspan x="736.5" dy="36.25">-</tspan><tspan x="736.5" dy="36.25">-</tspan><tspan x="736.5" dy="21.25">-</tspan></text>
<text x="745" y="2463.35">QETProject()<tspan x="745" dy="21.25">QETProject()</tspan><tspan x="745" dy="21.25">QETProject()</tspan><tspan x="745" dy="21.25">~QETProject()</tspan><tspan x="745" dy="21.25">projectPropertiesHandler()</tspan><tspan x="745" dy="21.25">dataBase()</tspan><tspan x="745" dy="21.25">uuid()</tspan><tspan x="745" dy="21.25">state()</tspan><tspan x="745" dy="21.25">diagrams()</tspan><tspan x="745" dy="21.25">folioIndex()</tspan><tspan x="745" dy="21.25">and 79 more...</tspan><tspan x="745" dy="21.25">setBackupEnabled()</tspan><tspan x="745" dy="21.25">addNewDiagram()</tspan><tspan x="745" dy="21.25">removeDiagram()</tspan><tspan x="745" dy="21.25">diagramOrderChanged()</tspan><tspan x="745" dy="21.25">setModified()</tspan><tspan x="745" dy="21.25">QETProject()</tspan><tspan x="745" dy="21.25">readProjectXml()</tspan><tspan x="745" dy="21.25">readDiagramsXml()</tspan><tspan x="745" dy="21.25">readElementsCollectionXml()</tspan><tspan x="745" dy="21.25">readProjectPropertiesXml()</tspan><tspan x="745" dy="21.25">readDefaultPropertiesXml()</tspan><tspan x="745" dy="21.25">readTerminalStripXml()</tspan><tspan x="745" dy="21.25">readUsageXml()</tspan><tspan x="745" dy="21.25">writeProjectPropertiesXml()</tspan><tspan x="745" dy="21.25">writeDefaultPropertiesXml()</tspan><tspan x="745" dy="21.25">and 7 more...</tspan><tspan x="745" dy="21.25">updateDiagramsFolioData()</tspan><tspan x="745" dy="21.25">updateDiagramsTitleBlock</tspan><tspan x="745" dy="15">Template()</tspan><tspan x="745" dy="21.25">removeDiagramsTitleBlock</tspan><tspan x="745" dy="15">Template()</tspan><tspan x="745" dy="21.25">usesTitleBlockTemplateChanged()</tspan><tspan x="745" dy="21.25">undoStackChanged()</tspan></text>
</g>

<g id="n_BorderTitleBlock" class="nd">
<rect x="1144" y="2270.9" width="195" height="742.25"/>
<path d="M1144,2294.9h195M1144,2529.65h195"/>
<text class="h" x="1241.5" y="2287.4">BorderTitleBlock</text>
<text class="p" x="1153.5" y="2310.5">-<tspan x="1153.5" dy="21.25">-</tspan><tspan x="1153.5" dy="21.25">-</tspan><tspan x="1153.5" dy="21.25">-</tspan><tspan x="1153.5" dy="21.25">-</tspan><tspan x="1153.5" dy="21.25">-</tspan><tspan x="1153.5" dy="21.25">-</tspan><tspan x="1153.5" dy="21.25">-</tspan><tspan x="1153.5" dy="21.25">-</tspan><tspan x="1153.5" dy="21.25">-</tspan></text>
<text x="1162" y="2310.5">btb_author_<tspan x="1162" dy="21.25">btb_date_</tspan><tspan x="1162" dy="21.25">btb_title_</tspan><tspan x="1162" dy="21.25">btb_folio_</tspan><tspan x="1162" dy="21.25">btb_plant_</tspan><tspan x="1162" dy="21.25">btb_locmach_</tspan><tspan x="1162" dy="21.25">btb_indexrev_</tspan><tspan x="1162" dy="21.25">btb_final_folio_</tspan><tspan x="1162" dy="21.25">btb_auto_page_num_</tspan><tspan x="1162" dy="21.25">folio_index_</tspan><tspan x="1162" dy="21.25">and 18 more...</tspan></text>
<text class="p" x="1153.5" y="2545.25">+<tspan x="1153.5" dy="21.25">+</tspan><tspan x="1153.5" dy="21.25">+</tspan><tspan x="1153.5" dy="21.25">+</tspan><tspan x="1153.5" dy="21.25">+</tspan><tspan x="1153.5" dy="21.25">+</tspan><tspan x="1153.5" dy="21.25">+</tspan><tspan x="1153.5" dy="21.25">+</tspan><tspan x="1153.5" dy="21.25">+</tspan><tspan x="1153.5" dy="21.25">+</tspan><tspan x="1153.5" dy="42.5">+</tspan><tspan x="1153.5" dy="21.25">+</tspan><tspan x="1153.5" dy="21.25">+</tspan><tspan x="1153.5" dy="21.25">+</tspan><tspan x="1153.5" dy="21.25">+</tspan><tspan x="1153.5" dy="21.25">+</tspan><tspan x="1153.5" dy="21.25">-</tspan><tspan x="1153.5" dy="21.25">-</tspan><tspan x="1153.5" dy="21.25">-</tspan><tspan x="1153.5" dy="21.25">-</tspan><tspan x="1153.5" dy="36.25">-</tspan></text>
<text x="1162" y="2545.25">BorderTitleBlock()<tspan x="1162" dy="21.25">~BorderTitleBlock()</tspan><tspan x="1162" dy="21.25">draw()</tspan><tspan x="1162" dy="21.25">drawDxf()</tspan><tspan x="1162" dy="21.25">columnsCount()</tspan><tspan x="1162" dy="21.25">columnsWidth()</tspan><tspan x="1162" dy="21.25">columnsTotalWidth()</tspan><tspan x="1162" dy="21.25">columnsHeaderHeight()</tspan><tspan x="1162" dy="21.25">rowsCount()</tspan><tspan x="1162" dy="21.25">rowsHeight()</tspan><tspan x="1162" dy="21.25">and 52 more...</tspan><tspan x="1162" dy="21.25">titleBlockTemplateChanged()</tspan><tspan x="1162" dy="21.25">titleBlockTemplateRemoved()</tspan><tspan x="1162" dy="21.25">displayTitleBlock()</tspan><tspan x="1162" dy="21.25">displayColumns()</tspan><tspan x="1162" dy="21.25">displayRows()</tspan><tspan x="1162" dy="21.25">displayBorder()</tspan><tspan x="1162" dy="21.25">BorderTitleBlock()</tspan><tspan x="1162" dy="21.25">titleBlockRectForQPainter()</tspan><tspan x="1162" dy="21.25">updateRectangles()</tspan><tspan x="1162" dy="21.25">updateDiagramContextForTitle</tspan><tspan x="1162" dy="15">Block()</tspan><tspan x="1162" dy="21.25">incrementLetters()</tspan></text>
</g>

<g id="n_TitleBlockTemplatesCollection" class="nd">
<rect x="487" y="2459" width="216" height="366"/>
<path d="M487,2483h216M487,2569h216"/>
<text class="h" x="595" y="2475.5">TitleBlockTemplatesCollection</text>
<text class="p" x="496.5" y="2498.6">#<tspan x="496.5" dy="21.25">#</tspan><tspan x="496.5" dy="21.25">#</tspan><tspan x="496.5" dy="21.25">#</tspan></text>
<text x="505" y="2498.6">title_<tspan x="505" dy="21.25">protocol_</tspan><tspan x="505" dy="21.25">m_collection</tspan><tspan x="505" dy="21.25">titleblock_templates_</tspan></text>
<text class="p" x="496.5" y="2584.6">+<tspan x="496.5" dy="21.25">+</tspan><tspan x="496.5" dy="21.25">+</tspan><tspan x="496.5" dy="21.25">+</tspan><tspan x="496.5" dy="21.25">+</tspan><tspan x="496.5" dy="21.25">+</tspan><tspan x="496.5" dy="21.25">+</tspan><tspan x="496.5" dy="21.25">+</tspan><tspan x="496.5" dy="21.25">+</tspan><tspan x="496.5" dy="21.25">+</tspan><tspan x="496.5" dy="42.5">-</tspan></text>
<text x="505" y="2584.6">TitleBlockTemplatesCollection()<tspan x="505" dy="21.25">~TitleBlockTemplatesCollection()</tspan><tspan x="505" dy="21.25">templates()</tspan><tspan x="505" dy="21.25">getTemplate()</tspan><tspan x="505" dy="21.25">getTemplateXmlDescription()</tspan><tspan x="505" dy="21.25">setTemplateXmlDescription()</tspan><tspan x="505" dy="21.25">removeTemplate()</tspan><tspan x="505" dy="21.25">location()</tspan><tspan x="505" dy="21.25">hasFilePath()</tspan><tspan x="505" dy="21.25">filePath()</tspan><tspan x="505" dy="21.25">and 9 more...</tspan><tspan x="505" dy="21.25">TitleBlockTemplatesCollection()</tspan></text>
</g>

<g id="n_QGIManager" class="nd">
<rect x="1747" y="2501.5" width="175" height="281"/>
<path d="M1747,2525.5h175M1747,2590.25h175"/>
<text class="h" x="1834.5" y="2518">QGIManager</text>
<text class="p" x="1756.5" y="2541.1">-<tspan x="1756.5" dy="21.25">-</tspan><tspan x="1756.5" dy="21.25">-</tspan></text>
<text x="1765" y="2541.1">scene<tspan x="1765" dy="21.25">qgi_manager</tspan><tspan x="1765" dy="21.25">destroy_qgi_on_delete</tspan></text>
<text class="p" x="1756.5" y="2605.85">+<tspan x="1756.5" dy="21.25">+</tspan><tspan x="1756.5" dy="21.25">+</tspan><tspan x="1756.5" dy="21.25">+</tspan><tspan x="1756.5" dy="21.25">+</tspan><tspan x="1756.5" dy="21.25">+</tspan><tspan x="1756.5" dy="21.25">+</tspan><tspan x="1756.5" dy="21.25">+</tspan><tspan x="1756.5" dy="21.25">-</tspan></text>
<text x="1765" y="2605.85">QGIManager()<tspan x="1765" dy="21.25">~QGIManager()</tspan><tspan x="1765" dy="21.25">manage()</tspan><tspan x="1765" dy="21.25">release()</tspan><tspan x="1765" dy="21.25">manage()</tspan><tspan x="1765" dy="21.25">release()</tspan><tspan x="1765" dy="21.25">setDestroyQGIOnDelete()</tspan><tspan x="1765" dy="21.25">manages()</tspan><tspan x="1765" dy="21.25">QGIManager()</tspan></text>
</g>

<g id="n_DiagramEventInterface" class="nd">
<rect x="1947" y="2480.25" width="170" height="323.5"/>
<path d="M1947,2504.25h170M1947,2569h170"/>
<text class="h" x="2032" y="2496.75">DiagramEventInterface</text>
<text class="p" x="1956.5" y="2519.85">#<tspan x="1956.5" dy="21.25">#</tspan><tspan x="1956.5" dy="21.25">#</tspan></text>
<text x="1965" y="2519.85">m_diagram<tspan x="1965" dy="21.25">m_running</tspan><tspan x="1965" dy="21.25">m_abort</tspan></text>
<text class="p" x="1956.5" y="2584.6">+<tspan x="1956.5" dy="21.25">+</tspan><tspan x="1956.5" dy="21.25">+</tspan><tspan x="1956.5" dy="21.25">+</tspan><tspan x="1956.5" dy="21.25">+</tspan><tspan x="1956.5" dy="21.25">+</tspan><tspan x="1956.5" dy="21.25">+</tspan><tspan x="1956.5" dy="21.25">+</tspan><tspan x="1956.5" dy="21.25">+</tspan><tspan x="1956.5" dy="21.25">+</tspan><tspan x="1956.5" dy="21.25">+</tspan></text>
<text x="1965" y="2584.6">DiagramEventInterface()<tspan x="1965" dy="21.25">~DiagramEventInterface()</tspan><tspan x="1965" dy="21.25">mouseDoubleClickEvent()</tspan><tspan x="1965" dy="21.25">mousePressEvent()</tspan><tspan x="1965" dy="21.25">mouseMoveEvent()</tspan><tspan x="1965" dy="21.25">mouseReleaseEvent()</tspan><tspan x="1965" dy="21.25">wheelEvent()</tspan><tspan x="1965" dy="21.25">keyPressEvent()</tspan><tspan x="1965" dy="21.25">keyReleaseEvent()</tspan><tspan x="1965" dy="21.25">isRunning()</tspan><tspan x="1965" dy="21.25">init()</tspan></text>
</g>

<g id="n_DiagramContent" class="nd">
<rect x="444" y="3601.4" width="170" height="557.25"/>
<path d="M444,3625.4h170M444,3923.9h170"/>
<text class="h" x="529" y="3617.9">DiagramContent</text>
<text class="p" x="453.5" y="3641">+<tspan x="453.5" dy="21.25">+</tspan><tspan x="453.5" dy="21.25">+</tspan><tspan x="453.5" dy="21.25">+</tspan><tspan x="453.5" dy="21.25">+</tspan><tspan x="453.5" dy="21.25">+</tspan><tspan x="453.5" dy="21.25">+</tspan><tspan x="453.5" dy="21.25">+</tspan><tspan x="453.5" dy="21.25">+</tspan><tspan x="453.5" dy="21.25">+</tspan><tspan x="453.5" dy="21.25">+</tspan><tspan x="453.5" dy="21.25">+</tspan><tspan x="453.5" dy="21.25">+</tspan><tspan x="453.5" dy="21.25">+</tspan></text>
<text x="462" y="3641">m_elements<tspan x="462" dy="21.25">m_text_fields</tspan><tspan x="462" dy="21.25">m_images</tspan><tspan x="462" dy="21.25">m_shapes</tspan><tspan x="462" dy="21.25">m_conductors_to_update</tspan><tspan x="462" dy="21.25">m_conductors_to_move</tspan><tspan x="462" dy="21.25">m_other_conductors</tspan><tspan x="462" dy="21.25">m_potential_conductors</tspan><tspan x="462" dy="21.25">m_element_texts</tspan><tspan x="462" dy="21.25">m_texts_groups</tspan><tspan x="462" dy="21.25">m_selected_items</tspan><tspan x="462" dy="21.25">m_tables</tspan><tspan x="462" dy="21.25">m_terminal_strip</tspan><tspan x="462" dy="21.25">m_terminal_elements</tspan></text>
<text class="p" x="453.5" y="3939.5">+<tspan x="453.5" dy="21.25">+</tspan><tspan x="453.5" dy="21.25">+</tspan><tspan x="453.5" dy="21.25">+</tspan><tspan x="453.5" dy="21.25">+</tspan><tspan x="453.5" dy="21.25">+</tspan><tspan x="453.5" dy="21.25">+</tspan><tspan x="453.5" dy="21.25">+</tspan><tspan x="453.5" dy="21.25">+</tspan><tspan x="453.5" dy="21.25">+</tspan></text>
<text x="462" y="3939.5">DiagramContent()<tspan x="462" dy="21.25">DiagramContent()</tspan><tspan x="462" dy="21.25">~DiagramContent()</tspan><tspan x="462" dy="21.25">selectedTexts()</tspan><tspan x="462" dy="21.25">selectedTextsGroup()</tspan><tspan x="462" dy="21.25">conductors()</tspan><tspan x="462" dy="21.25">hasDeletableItems()</tspan><tspan x="462" dy="21.25">hasCopiableItems()</tspan><tspan x="462" dy="21.25">items()</tspan><tspan x="462" dy="21.25">sentence()</tspan><tspan x="462" dy="21.25">and 6 more...</tspan></text>
</g>

<g id="n_TitleBlockTemplatesProjectCollection" class="nd">
<rect x="639" y="3688.25" width="192" height="383.5"/>
<path d="M639,3727.25h192M639,3770.75h192"/>
<text class="h" x="735" y="3704.75">TitleBlockTemplatesProject<tspan x="735" dy="15">Collection</tspan></text>
<text class="p" x="648.5" y="3742.85">-<tspan x="648.5" dy="21.25">-</tspan></text>
<text x="657" y="3742.85">xml_document_<tspan x="657" dy="21.25">titleblock_templates_xml_</tspan></text>
<text class="p" x="648.5" y="3786.35">+<tspan x="648.5" dy="36.25">+</tspan><tspan x="648.5" dy="36.25">+</tspan><tspan x="648.5" dy="21.25">+</tspan><tspan x="648.5" dy="21.25">+</tspan><tspan x="648.5" dy="21.25">+</tspan><tspan x="648.5" dy="21.25">+</tspan><tspan x="648.5" dy="21.25">+</tspan><tspan x="648.5" dy="21.25">+</tspan><tspan x="648.5" dy="21.25">+</tspan><tspan x="648.5" dy="42.5">-</tspan></text>
<text x="657" y="3786.35">TitleBlockTemplatesProject<tspan x="657" dy="15">Collection()</tspan><tspan x="657" dy="21.25">~TitleBlockTemplatesProject</tspan><tspan x="657" dy="15">Collection()</tspan><tspan x="657" dy="21.25">title()</tspan><tspan x="657" dy="21.25">protocol()</tspan><tspan x="657" dy="21.25">parentProject()</tspan><tspan x="657" dy="21.25">templates()</tspan><tspan x="657" dy="21.25">getTemplate()</tspan><tspan x="657" dy="21.25">getTemplateXmlDescription()</tspan><tspan x="657" dy="21.25">setTemplateXmlDescription()</tspan><tspan x="657" dy="21.25">removeTemplate()</tspan><tspan x="657" dy="21.25">and 6 more...</tspan><tspan x="657" dy="21.25">TitleBlockTemplatesProject</tspan><tspan x="657" dy="15">Collection()</tspan></text>
</g>

<g id="n_XmlElementCollection" class="nd">
<rect x="1016" y="3718.25" width="161" height="323.5"/>
<path d="M1016,3742.25h161M1016,3764.5h161"/>
<text class="h" x="1096.5" y="3734.75">XmlElementCollection</text>
<text class="p" x="1025.5" y="3757.85">-</text>
<text x="1034" y="3757.85">m_dom_document</text>
<text class="p" x="1025.5" y="3780.1">+<tspan x="1025.5" dy="21.25">+</tspan><tspan x="1025.5" dy="21.25">+</tspan><tspan x="1025.5" dy="21.25">+</tspan><tspan x="1025.5" dy="21.25">+</tspan><tspan x="1025.5" dy="21.25">+</tspan><tspan x="1025.5" dy="21.25">+</tspan><tspan x="1025.5" dy="21.25">+</tspan><tspan x="1025.5" dy="21.25">+</tspan><tspan x="1025.5" dy="21.25">+</tspan><tspan x="1025.5" dy="42.5">-</tspan><tspan x="1025.5" dy="21.25">-</tspan></text>
<text x="1034" y="3780.1">XmlElementCollection()<tspan x="1034" dy="21.25">XmlElementCollection()</tspan><tspan x="1034" dy="21.25">root()</tspan><tspan x="1034" dy="21.25">importCategory()</tspan><tspan x="1034" dy="21.25">childs()</tspan><tspan x="1034" dy="21.25">child()</tspan><tspan x="1034" dy="21.25">child()</tspan><tspan x="1034" dy="21.25">directories()</tspan><tspan x="1034" dy="21.25">directoriesNames()</tspan><tspan x="1034" dy="21.25">elements()</tspan><tspan x="1034" dy="21.25">and 14 more...</tspan><tspan x="1034" dy="21.25">copyDirectory()</tspan><tspan x="1034" dy="21.25">copyElement()</tspan></text>
</g>

<g id="n_Diagram" class="nd">
<rect x="1277" y="3240.1" width="197" height="1279.75"/>
<path d="M1277,3264.1h197M1277,3796.35h197"/>
<text class="h" x="1375.5" y="3256.6">Diagram</text>
<text class="p" x="1286.5" y="3279.7">+<tspan x="1286.5" dy="21.25">+</tspan><tspan x="1286.5" dy="21.25">+</tspan><tspan x="1286.5" dy="21.25">+</tspan><tspan x="1286.5" dy="21.25">+</tspan><tspan x="1286.5" dy="21.25">+</tspan><tspan x="1286.5" dy="21.25">+</tspan><tspan x="1286.5" dy="21.25">+</tspan><tspan x="1286.5" dy="21.25">+</tspan><tspan x="1286.5" dy="21.25">+</tspan><tspan x="1286.5" dy="21.25">+</tspan><tspan x="1286.5" dy="21.25">+</tspan><tspan x="1286.5" dy="21.25">+</tspan><tspan x="1286.5" dy="21.25">+</tspan><tspan x="1286.5" dy="21.25">-</tspan><tspan x="1286.5" dy="21.25">-</tspan><tspan x="1286.5" dy="21.25">-</tspan><tspan x="1286.5" dy="21.25">-</tspan><tspan x="1286.5" dy="21.25">-</tspan><tspan x="1286.5" dy="21.25">-</tspan><tspan x="1286.5" dy="21.25">-</tspan><tspan x="1286.5" dy="21.25">-</tspan><tspan x="1286.5" dy="21.25">-</tspan><tspan x="1286.5" dy="21.25">-</tspan></text>
<text x="1295" y="3279.7">m_elmt_unitfolio_max<tspan x="1295" dy="21.25">m_elmt_tenfolio_max</tspan><tspan x="1295" dy="21.25">m_elmt_hundredfolio_max</tspan><tspan x="1295" dy="21.25">m_cnd_unitfolio_max</tspan><tspan x="1295" dy="21.25">m_cnd_tenfolio_max</tspan><tspan x="1295" dy="21.25">m_cnd_hundredfolio_max</tspan><tspan x="1295" dy="21.25">xGrid</tspan><tspan x="1295" dy="21.25">yGrid</tspan><tspan x="1295" dy="21.25">xKeyGrid</tspan><tspan x="1295" dy="21.25">yKeyGrid</tspan><tspan x="1295" dy="21.25">xKeyGridFine</tspan><tspan x="1295" dy="21.25">yKeyGridFine</tspan><tspan x="1295" dy="21.25">margin</tspan><tspan x="1295" dy="21.25">background_color</tspan><tspan x="1295" dy="21.25">DiagramFolioList</tspan><tspan x="1295" dy="21.25">QETProject</tspan><tspan x="1295" dy="21.25">conductor_setter</tspan><tspan x="1295" dy="21.25">xml_document</tspan><tspan x="1295" dy="21.25">diagram_qet_version</tspan><tspan x="1295" dy="21.25">draw_grid_</tspan><tspan x="1295" dy="21.25">use_border_</tspan><tspan x="1295" dy="21.25">draw_guides_</tspan><tspan x="1295" dy="21.25">m_guides_list</tspan><tspan x="1295" dy="21.25">draw_terminals_</tspan><tspan x="1295" dy="21.25">and 8 more...</tspan></text>
<text class="p" x="1286.5" y="3811.95">+<tspan x="1286.5" dy="21.25">+</tspan><tspan x="1286.5" dy="21.25">+</tspan><tspan x="1286.5" dy="21.25">+</tspan><tspan x="1286.5" dy="21.25">+</tspan><tspan x="1286.5" dy="21.25">+</tspan><tspan x="1286.5" dy="21.25">+</tspan><tspan x="1286.5" dy="21.25">+</tspan><tspan x="1286.5" dy="21.25">+</tspan><tspan x="1286.5" dy="21.25">+</tspan><tspan x="1286.5" dy="42.5">+</tspan><tspan x="1286.5" dy="21.25">+</tspan><tspan x="1286.5" dy="21.25">+</tspan><tspan x="1286.5" dy="21.25">+</tspan><tspan x="1286.5" dy="21.25">+</tspan><tspan x="1286.5" dy="21.25">+</tspan><tspan x="1286.5" dy="21.25">+</tspan><tspan x="1286.5" dy="21.25">+</tspan><tspan x="1286.5" dy="21.25">+</tspan><tspan x="1286.5" dy="21.25">+</tspan><tspan x="1286.5" dy="21.25">+</tspan><tspan x="1286.5" dy="21.25">+</tspan><tspan x="1286.5" dy="21.25">#</tspan><tspan x="1286.5" dy="21.25">#</tspan><tspan x="1286.5" dy="21.25">#</tspan><tspan x="1286.5" dy="21.25">#</tspan><tspan x="1286.5" dy="21.25">#</tspan><tspan x="1286.5" dy="21.25">#</tspan><tspan x="1286.5" dy="21.25">#</tspan><tspan x="1286.5" dy="21.25">#</tspan><tspan x="1286.5" dy="21.25">-</tspan><tspan x="1286.5" dy="21.25">-</tspan><tspan x="1286.5" dy="21.25">-</tspan></text>
<text x="1295" y="3811.95">correctTextPos()<tspan x="1295" dy="21.25">restoreText()</tspan><tspan x="1295" dy="21.25">uuid()</tspan><tspan x="1295" dy="21.25">setEventInterface()</tspan><tspan x="1295" dy="21.25">clearEventInterface()</tspan><tspan x="1295" dy="21.25">conductorsAutonumName()</tspan><tspan x="1295" dy="21.25">setConductorsAutonumName()</tspan><tspan x="1295" dy="21.25">project()</tspan><tspan x="1295" dy="21.25">folioIndex()</tspan><tspan x="1295" dy="21.25">showMe()</tspan><tspan x="1295" dy="21.25">and 96 more...</tspan><tspan x="1295" dy="21.25">clipboardMayContainDiagram()</tspan><tspan x="1295" dy="21.25">snapToGrid()</tspan><tspan x="1295" dy="21.25">adjustSceneRect()</tspan><tspan x="1295" dy="21.25">titleChanged()</tspan><tspan x="1295" dy="21.25">titleBlockTemplateChanged()</tspan><tspan x="1295" dy="21.25">titleBlockTemplateRemoved()</tspan><tspan x="1295" dy="21.25">setTitleBlockTemplate()</tspan><tspan x="1295" dy="21.25">loadElmtFolioSeq()</tspan><tspan x="1295" dy="21.25">loadCndFolioSeq()</tspan><tspan x="1295" dy="21.25">selectAll()</tspan><tspan x="1295" dy="21.25">deselectAll()</tspan><tspan x="1295" dy="21.25">invertSelection()</tspan><tspan x="1295" dy="21.25">drawBackground()</tspan><tspan x="1295" dy="21.25">mouseDoubleClickEvent()</tspan><tspan x="1295" dy="21.25">mousePressEvent()</tspan><tspan x="1295" dy="21.25">mouseMoveEvent()</tspan><tspan x="1295" dy="21.25">mouseReleaseEvent()</tspan><tspan x="1295" dy="21.25">wheelEvent()</tspan><tspan x="1295" dy="21.25">keyPressEvent()</tspan><tspan x="1295" dy="21.25">keyReleaseEvent()</tspan><tspan x="1295" dy="21.25">Diagram()</tspan><tspan x="1295" dy="21.25">~Diagram()</tspan><tspan x="1295" dy="21.25">Diagram()</tspan></text>
</g>

<g id="n_ElementsMover" class="nd">
<rect x="1040" y="4623.1" width="152" height="259.75"/>
<path d="M1040,4647.1h152M1040,4733.1h152"/>
<text class="h" x="1116" y="4639.6">ElementsMover</text>
<text class="p" x="1049.5" y="4662.7">-<tspan x="1049.5" dy="21.25">-</tspan><tspan x="1049.5" dy="21.25">-</tspan><tspan x="1049.5" dy="21.25">-</tspan></text>
<text x="1058" y="4662.7">m_movement_running<tspan x="1058" dy="21.25">m_current_movement</tspan><tspan x="1058" dy="21.25">m_movement_driver</tspan><tspan x="1058" dy="21.25">m_status_bar</tspan></text>
<text class="p" x="1049.5" y="4748.7">+<tspan x="1049.5" dy="21.25">+</tspan><tspan x="1049.5" dy="21.25">+</tspan><tspan x="1049.5" dy="21.25">+</tspan><tspan x="1049.5" dy="21.25">+</tspan><tspan x="1049.5" dy="21.25">+</tspan><tspan x="1049.5" dy="21.25">-</tspan></text>
<text x="1058" y="4748.7">ElementsMover()<tspan x="1058" dy="21.25">~ElementsMover()</tspan><tspan x="1058" dy="21.25">isReady()</tspan><tspan x="1058" dy="21.25">beginMovement()</tspan><tspan x="1058" dy="21.25">continueMovement()</tspan><tspan x="1058" dy="21.25">endMovement()</tspan><tspan x="1058" dy="21.25">ElementsMover()</tspan></text>
</g>

<g id="n_ElementTextsMover" class="nd">
<rect x="1396" y="4591.25" width="152" height="323.5"/>
<path d="M1396,4615.25h152M1396,4765h152"/>
<text class="h" x="1472" y="4607.75">ElementTextsMover</text>
<text class="p" x="1405.5" y="4630.85">-<tspan x="1405.5" dy="21.25">-</tspan><tspan x="1405.5" dy="21.25">-</tspan><tspan x="1405.5" dy="21.25">-</tspan><tspan x="1405.5" dy="21.25">-</tspan><tspan x="1405.5" dy="21.25">-</tspan><tspan x="1405.5" dy="21.25">-</tspan></text>
<text x="1414" y="4630.85">m_movement_running<tspan x="1414" dy="21.25">m_movement_driver</tspan><tspan x="1414" dy="21.25">m_texts_hash</tspan><tspan x="1414" dy="21.25">m_grps_hash</tspan><tspan x="1414" dy="21.25">m_items_hash</tspan><tspan x="1414" dy="21.25">m_last_count</tspan><tspan x="1414" dy="21.25">m_group_count</tspan></text>
<text class="p" x="1405.5" y="4780.6">+<tspan x="1405.5" dy="21.25">+</tspan><tspan x="1405.5" dy="21.25">+</tspan><tspan x="1405.5" dy="21.25">+</tspan><tspan x="1405.5" dy="21.25">+</tspan><tspan x="1405.5" dy="21.25">-</tspan><tspan x="1405.5" dy="21.25">-</tspan></text>
<text x="1414" y="4780.6">ElementTextsMover()<tspan x="1414" dy="21.25">isReady()</tspan><tspan x="1414" dy="21.25">beginMovement()</tspan><tspan x="1414" dy="21.25">continueMovement()</tspan><tspan x="1414" dy="21.25">endMovement()</tspan><tspan x="1414" dy="21.25">ElementTextsMover()</tspan><tspan x="1414" dy="21.25">undoText()</tspan></text>
</g>
</svg>
